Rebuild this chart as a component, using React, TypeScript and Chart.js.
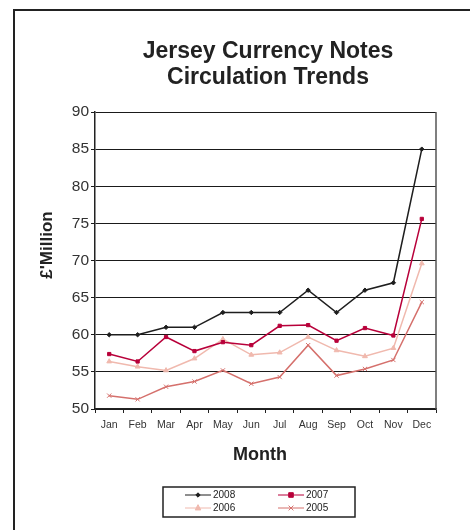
import React, { useEffect, useRef } from "react";
import { Chart, registerables } from "chart.js";

Chart.register(...registerables);

const months = ["Jan", "Feb", "Mar", "Apr", "May", "Jun", "Jul", "Aug", "Sep", "Oct", "Nov", "Dec"];
const yTicks = [50, 55, 60, 65, 70, 75, 80, 85, 90];
const s2008 = [60, 60, 61, 61, 63, 63, 63, 66, 63, 66, 67, 85];
const s2007 = [57.4, 56.4, 59.7, 57.8, 59.0, 58.6, 61.2, 61.3, 59.2, 60.9, 59.9, 75.6];
const s2006 = [56.4, 55.7, 55.2, 56.8, 59.4, 57.3, 57.6, 59.7, 57.9, 57.1, 58.2, 69.6];
const s2005 = [51.8, 51.3, 53.0, 53.7, 55.2, 53.4, 54.3, 58.6, 54.5, 55.4, 56.6, 64.4];

const FONT = "'Liberation Sans', Arial, Helvetica, sans-serif";

function marker(ctx: CanvasRenderingContext2D, style: string, r: number, x: number, y: number, color: string) {
  ctx.save();
  ctx.fillStyle = color;
  ctx.strokeStyle = color;
  ctx.lineWidth = 1;
  ctx.beginPath();
  if (style === "rectRot") {
    ctx.moveTo(x, y - r); ctx.lineTo(x + r, y); ctx.lineTo(x, y + r); ctx.lineTo(x - r, y); ctx.closePath();
    ctx.fill(); ctx.stroke();
  } else if (style === "rect") {
    ctx.rect(x - r, y - r, 2 * r, 2 * r); ctx.fill(); ctx.stroke();
  } else if (style === "triangle") {
    ctx.moveTo(x, y - r * 1.2); ctx.lineTo(x + r, y + r * 0.7); ctx.lineTo(x - r, y + r * 0.7); ctx.closePath();
    ctx.fill(); ctx.stroke();
  } else {
    const d = r * 0.8;
    ctx.moveTo(x - d, y - d); ctx.lineTo(x + d, y + d); ctx.moveTo(x + d, y - d); ctx.lineTo(x - d, y + d);
    ctx.stroke();
  }
  ctx.restore();
}

const framePlugin = {
  id: "framePlugin",
  afterDraw(chart: any) {
    const ctx = chart.ctx;
    const a = chart.chartArea;
    ctx.save();
    ctx.strokeStyle = "#222";
    ctx.lineWidth = 2;
    ctx.beginPath();
    ctx.moveTo(14, 531);
    ctx.lineTo(14, 10);
    ctx.lineTo(471, 10);
    ctx.stroke();
    ctx.strokeStyle = "#555";
    ctx.lineWidth = 1.5;
    ctx.beginPath();
    ctx.moveTo(a.right, a.top);
    ctx.lineTo(a.right, a.bottom);
    ctx.stroke();
    ctx.fillStyle = "#222";
    ctx.textAlign = "center";
    ctx.textBaseline = "middle";
    ctx.font = `bold 23px ${FONT}`;
    ctx.fillText("Jersey Currency Notes", 268, 52);
    ctx.fillText("Circulation Trends", 268, 78);
    ctx.font = `bold 18px ${FONT}`;
    ctx.fillText("Month", 260, 455);
    ctx.save();
    ctx.translate(47, 245);
    ctx.rotate(-Math.PI / 2);
    ctx.font = `bold 17px ${FONT}`;
    ctx.fillText("£'Million", 0, 0);
    ctx.restore();
    ctx.strokeStyle = "#222";
    ctx.lineWidth = 1.5;
    ctx.strokeRect(163, 487, 192, 30);
    const cols = [185, 278];
    const rows = [495, 508];
    chart.data.datasets.forEach((ds: any, i: number) => {
      const x0 = cols[i % 2];
      const y = rows[Math.floor(i / 2)];
      const x1 = x0 + 26;
      ctx.strokeStyle = ds.borderColor;
      ctx.lineWidth = 1;
      ctx.beginPath();
      ctx.moveTo(x0, y);
      ctx.lineTo(x1, y);
      ctx.stroke();
      marker(ctx, ds.pointStyle, ds.pointRadius, (x0 + x1) / 2, y, ds.borderColor);
      ctx.fillStyle = "#222";
      ctx.textAlign = "left";
      ctx.textBaseline = "middle";
      ctx.font = `10px ${FONT}`;
      ctx.fillText(ds.label, x1 + 2, y + 0.5);
    });
    ctx.restore();
  },
};

function mk(label: string, data: number[], color: string, style: string, r: number) {
  return {
    label,
    data,
    borderColor: color,
    backgroundColor: color,
    pointBackgroundColor: color,
    pointBorderColor: color,
    borderWidth: 1.5,
    pointStyle: style,
    pointRadius: r,
    pointBorderWidth: 1,
    tension: 0,
  };
}

export default function App() {
  const ref = useRef<HTMLCanvasElement>(null);
  useEffect(() => {
    if (!ref.current) return;
    const chart = new Chart(ref.current, {
      type: "line",
      data: {
        labels: months,
        datasets: [
          mk("2008", s2008, "#1e1e1e", "rectRot", 2.2),
          mk("2007", s2007, "#b8003a", "rect", 2.3),
          mk("2006", s2006, "#f0b9ae", "triangle", 2.8),
          mk("2005", s2005, "#d5706c", "crossRot", 3),
        ],
      },
      options: {
        animation: false,
        responsive: false,
        devicePixelRatio: 1,
        layout: { padding: { left: 0, top: 112, right: 34, bottom: 0 } },
        plugins: { legend: { display: false }, title: { display: false }, tooltip: { enabled: false } },
        scales: {
          x: {
            type: "category",
            offset: true,
            afterFit: (s: any) => { s.height = 121; },
            grid: { offset: true, drawOnChartArea: false, drawTicks: true, tickLength: 4, color: "#222", lineWidth: 1 },
            border: { display: true, color: "#222", width: 1.5 },
            ticks: { font: { family: FONT, size: 10.5 }, color: "#333", padding: 6, maxRotation: 0, autoSkip: false },
          },
          y: {
            min: yTicks[0],
            max: yTicks[yTicks.length - 1],
            afterFit: (s: any) => { s.width = 95; },
            afterBuildTicks: (s: any) => { s.ticks = yTicks.map((v) => ({ value: v })); },
            grid: { color: "#1a1a1a", lineWidth: 1, drawTicks: true, tickLength: 4 },
            border: { display: true, color: "#222", width: 1.5 },
            ticks: { font: { family: FONT, size: 15.5 }, color: "#333", padding: 2 },
          },
        },
      },
      plugins: [framePlugin],
    } as any);
    return () => chart.destroy();
  }, []);
  return (
    <div style={{ position: "absolute", left: 0, top: 0, width: 470, height: 530, background: "#fff" }}>
      <canvas ref={ref} width={470} height={530} style={{ display: "block" }} />
    </div>
  );
}
